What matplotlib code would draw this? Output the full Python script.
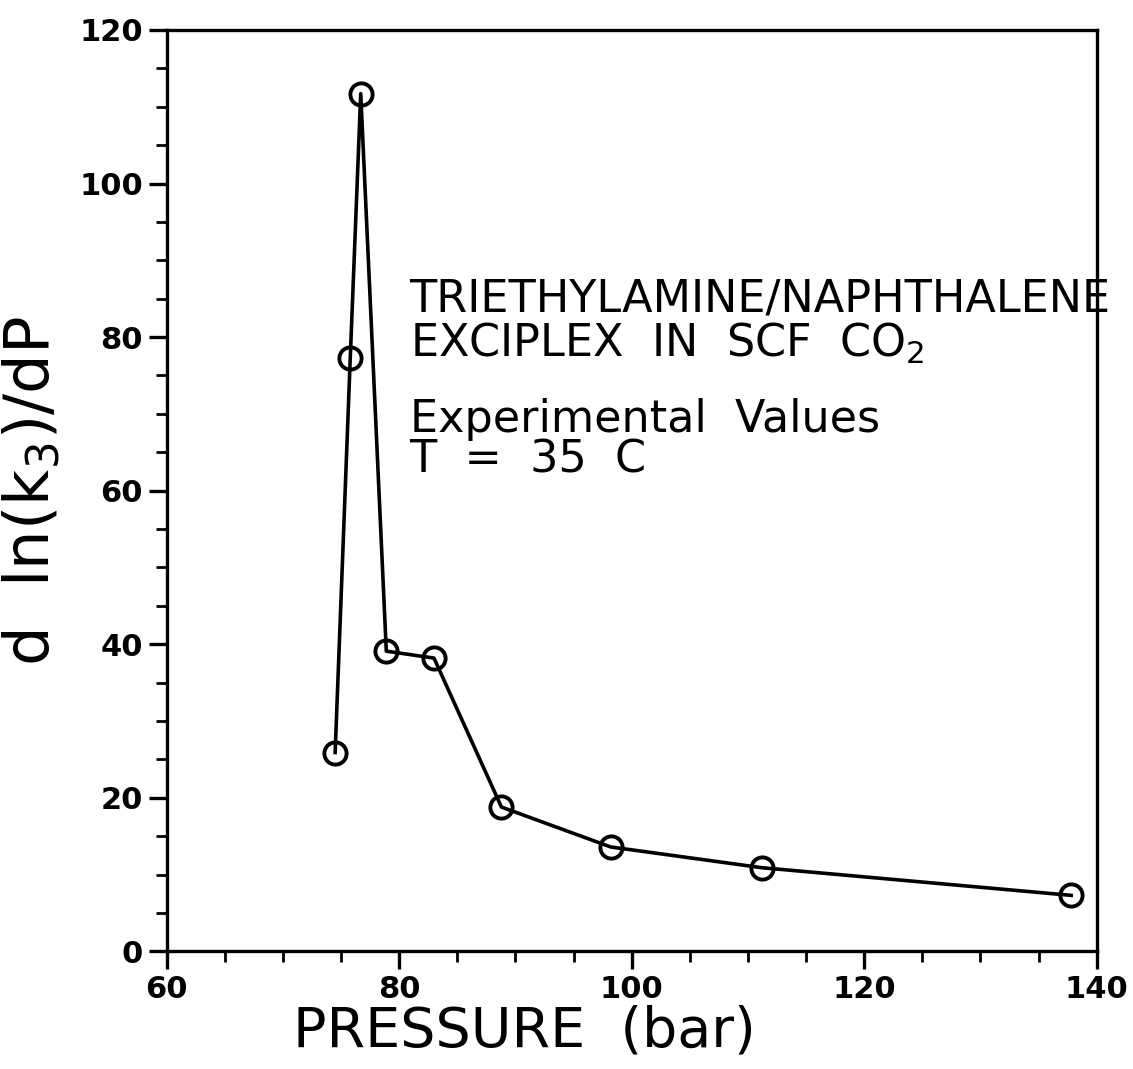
"""Triethylamine/naphthalene exciplex: d ln(k3)/dP against pressure."""
import matplotlib

matplotlib.use("Agg")
import matplotlib.pyplot as plt
from matplotlib.ticker import MultipleLocator

pressure = [74.5, 75.8, 76.7, 78.9, 83.0, 88.8, 98.2, 111.2, 137.8]
dlnk_dp = [25.9, 77.3, 111.7, 39.1, 38.2, 18.8, 13.6, 10.9, 7.3]

x_ticks = [60, 80, 100, 120, 140]
y_ticks = [0, 20, 40, 60, 80, 100, 120]

notes = [
    ("TRIETHYLAMINE/NAPHTHALENE", 83.3),
    ("EXCIPLEX  IN  SCF  CO$_2$", 77.4),
    ("Experimental  Values", 67.6),
    ("T  =  35  C", 62.4),
]

plt.rcParams["font.family"] = ["DejaVu Sans"]
plt.rcParams["mathtext.fontset"] = "dejavusans"

fig = plt.figure(figsize=(11.33, 10.69), dpi=100)
ax = fig.add_axes([0.147, 0.110, 0.821, 0.862])

ax.plot(pressure, dlnk_dp, color="black", linewidth=2.6,
        marker="o", markersize=16, markerfacecolor="none",
        markeredgecolor="black", markeredgewidth=2.8)

ax.set_xlim(60, 140)
ax.set_ylim(0, 120)
ax.set_xticks(x_ticks)
ax.set_yticks(y_ticks)
ax.xaxis.set_minor_locator(MultipleLocator(5))
ax.yaxis.set_minor_locator(MultipleLocator(5))
ax.tick_params(which="major", direction="out", length=13, width=2.4,
               labelsize=22, top=False, right=False, pad=4)
ax.tick_params(which="minor", direction="out", length=8, width=2.0,
               top=False, right=False)
for label in ax.get_xticklabels() + ax.get_yticklabels():
    label.set_fontweight("bold")
for spine in ax.spines.values():
    spine.set_linewidth(2.4)

ax.set_xlabel("PRESSURE  (bar)", fontsize=40)
ax.xaxis.set_label_coords(0.385, -0.058)
ax.set_ylabel(r"d  ln(k$_3$)/dP", fontsize=45)
ax.yaxis.set_label_coords(-0.112, 0.50)

for text, y in notes:
    ax.text(80.9, y, text, fontsize=32, va="baseline", ha="left",
            clip_on=False)

fig.savefig("out.png", dpi=100)
